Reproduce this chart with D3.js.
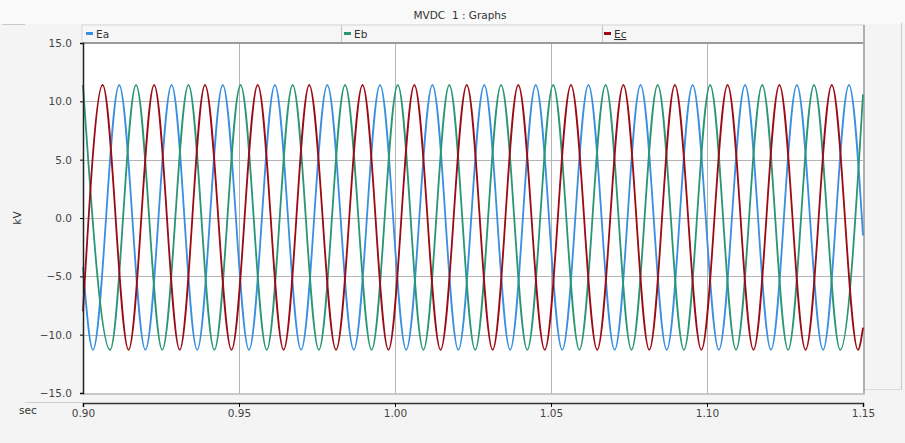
<!DOCTYPE html>
<html>
<head>
<meta charset="utf-8">
<script src="https://cdn.jsdelivr.net/npm/d3@7"></script>
<style>
  html, body { margin: 0; padding: 0; background: #f4f4f4; }
  svg { display: block; font-family: "DejaVu Sans", Verdana, sans-serif; }
</style>
</head>
<body>
<div id="chart"></div>
<script>
// Axis ticks
const xTicks = [0.90, 0.95, 1.00, 1.05, 1.10, 1.15];
const yTicks = [-15, -10, -5, 0, 5, 10, 15];

// Series names and colours
const seriesNames = ["Ea", "Eb", "Ec"];
const seriesColors = ["#3a8fe0", "#2a9675", "#9c0a14"];

// Ea (blue): start, alternating troughs / peaks, end  (sec, kV)
const eaTimes = [0.9000, 0.9032, 0.9116, 0.9200, 0.9284, 0.9366, 0.9448, 0.9532, 0.9615, 0.9699,
  0.9783, 0.9868, 0.9952, 1.0036, 1.0120, 1.0203, 1.0286, 1.0369, 1.0451, 1.0536,
  1.0620, 1.0704, 1.0787, 1.0871, 1.0954, 1.1038, 1.1122, 1.1205, 1.1288, 1.1372,
  1.1455, 1.1500];
const eaValues = [-4.2, -11.3, 11.4, -11.3, 11.4, -11.3, 11.4, -11.3, 11.4, -11.3,
  11.4, -11.3, 11.4, -11.3, 11.4, -11.3, 11.4, -11.3, 11.4, -11.3,
  11.4, -11.3, 11.4, -11.3, 11.4, -11.3, 11.4, -11.3, 11.4, -11.3,
  11.4, -1.5];

// Eb (green)
const ebTimes = [0.9000, 0.9087, 0.9170, 0.9254, 0.9338, 0.9421, 0.9505, 0.9589, 0.9672, 0.9756,
  0.9840, 0.9925, 1.0009, 1.0091, 1.0174, 1.0257, 1.0340, 1.0424, 1.0507, 1.0591,
  1.0675, 1.0758, 1.0842, 1.0926, 1.1010, 1.1093, 1.1177, 1.1260, 1.1343, 1.1427,
  1.1500];
const ebValues = [11.4, -11.3, 11.4, -11.3, 11.4, -11.3, 11.4, -11.3, 11.4, -11.3,
  11.4, -11.3, 11.4, -11.3, 11.4, -11.3, 11.4, -11.3, 11.4, -11.3,
  11.4, -11.3, 11.4, -11.3, 11.4, -11.3, 11.4, -11.3, 11.4, -11.3,
  10.6];

// Ec (red)
const ecTimes = [0.9000, 0.9063, 0.9146, 0.9228, 0.9310, 0.9391, 0.9476, 0.9560, 0.9643, 0.9725,
  0.9811, 0.9896, 0.9979, 1.0062, 1.0146, 1.0230, 1.0313, 1.0395, 1.0480, 1.0564,
  1.0648, 1.0732, 1.0815, 1.0897, 1.0982, 1.1066, 1.1149, 1.1232, 1.1316, 1.1400,
  1.1484, 1.1500];
const ecValues = [-8.0, 11.4, -11.3, 11.4, -11.3, 11.4, -11.3, 11.4, -11.3, 11.4,
  -11.3, 11.4, -11.3, 11.4, -11.3, 11.4, -11.3, 11.4, -11.3, 11.4,
  -11.3, 11.4, -11.3, 11.4, -11.3, 11.4, -11.3, 11.4, -11.3, 11.4,
  -11.3, -9.4];

const width = 905, height = 443;
const plot = {left: 83, right: 863, top: 43, bottom: 393};

const svg = d3.select("#chart").append("svg")
  .attr("width", width)
  .attr("height", height);

const x = d3.scaleLinear().domain([0.90, 1.15]).range([plot.left, plot.right]);
const y = d3.scaleLinear().domain([-15, 15]).range([plot.bottom, plot.top]);

// Frame / header
svg.append("rect").attr("x", 0).attr("y", 0).attr("width", width).attr("height", 24).attr("fill", "#f9f9f9");
svg.append("line").attr("x1", 2).attr("x2", 25).attr("y1", 24.5).attr("y2", 24.5).attr("stroke", "#c8c8c8");
svg.append("text")
  .attr("x", 460).attr("y", 19)
  .attr("text-anchor", "middle")
  .attr("font-size", 10.5)
  .attr("fill", "#333")
  .style("white-space", "pre")
  .text("MVDC  1 : Graphs");

// Legend row
const legendTop = 25;
svg.append("rect")
  .attr("x", plot.left - 1).attr("y", legendTop)
  .attr("width", plot.right - plot.left + 2).attr("height", plot.top - legendTop)
  .attr("fill", "#f6f6f6").attr("stroke", "#d6d6d6");
const legendX = [86, 344, 604];
const legendSep = [341, 602];
svg.selectAll(".sep").data(legendSep).join("line")
  .attr("x1", d => d + 0.5).attr("x2", d => d + 0.5)
  .attr("y1", legendTop).attr("y2", plot.top)
  .attr("stroke", "#c4c4c4");
const legend = svg.selectAll(".legend").data(seriesNames).join("g")
  .attr("transform", (d, i) => `translate(${legendX[i]},0)`);
legend.append("rect").attr("x", 0).attr("y", 32).attr("width", 7).attr("height", 3)
  .attr("fill", (d, i) => seriesColors[i]);
legend.append("text").attr("x", 10).attr("y", 38)
  .attr("font-size", 10.5).attr("fill", "#333")
  .attr("text-decoration", (d, i) => i === 2 ? "underline" : null)
  .text(d => d);

// Right side panel lines
svg.append("line").attr("x1", 901.5).attr("x2", 901.5).attr("y1", 23).attr("y2", 390).attr("stroke", "#c8c8c8");
svg.append("line").attr("x1", 865).attr("x2", 902).attr("y1", 389.5).attr("y2", 389.5).attr("stroke", "#dcdcdc");

// Plot area
svg.append("rect")
  .attr("x", plot.left).attr("y", plot.top)
  .attr("width", plot.right - plot.left).attr("height", plot.bottom - plot.top)
  .attr("fill", "#fff");

// Grid
svg.append("g").selectAll("line").data(yTicks.slice(1, -1)).join("line")
  .attr("x1", plot.left).attr("x2", plot.right)
  .attr("y1", d => Math.round(y(d)) + 0.5).attr("y2", d => Math.round(y(d)) + 0.5)
  .attr("stroke", "#b4b4b4");
svg.append("g").selectAll("line").data(xTicks.slice(1, -1)).join("line")
  .attr("x1", d => Math.round(x(d)) + 0.5).attr("x2", d => Math.round(x(d)) + 0.5)
  .attr("y1", plot.top).attr("y2", plot.bottom)
  .attr("stroke", "#b4b4b4");

// Plot borders
svg.append("line").attr("x1", plot.left).attr("x2", plot.right + 2)
  .attr("y1", plot.top).attr("y2", plot.top).attr("stroke", "#9a9a9a").attr("stroke-width", 2);
svg.append("line").attr("x1", plot.right + 1).attr("x2", plot.right + 1)
  .attr("y1", legendTop).attr("y2", plot.bottom + 1).attr("stroke", "#b0b0b0").attr("stroke-width", 2);
svg.append("line").attr("x1", plot.left).attr("x2", plot.right + 2)
  .attr("y1", plot.bottom + 1).attr("y2", plot.bottom + 1).attr("stroke", "#c8c8c8").attr("stroke-width", 2);

// Series
const series = [
  {times: eaTimes, values: eaValues},
  {times: ebTimes, values: ebValues},
  {times: ecTimes, values: ecValues}
];
const line = d3.line()
  .x(d => x(d[0]))
  .y(d => y(d[1]))
  .curve(d3.curveMonotoneX);
svg.append("g")
  .selectAll("path")
  .data(series)
  .join("path")
  .attr("fill", "none")
  .attr("stroke", (d, i) => seriesColors[i])
  .attr("stroke-width", 1.8)
  .attr("stroke-linejoin", "round")
  .attr("d", d => line(d.times.map((t, i) => [t, d.values[i]])));

// Y axis
const yAxis = svg.append("g")
  .attr("transform", `translate(${plot.left},0)`)
  .call(d3.axisLeft(y).tickValues(yTicks).tickFormat(d3.format(".1f")).tickSize(3).tickPadding(8));
yAxis.select(".domain").attr("stroke", "#222").attr("stroke-width", 1.5);
yAxis.selectAll("text").attr("font-size", 10.5).attr("fill", "#444")
  .attr("font-family", "DejaVu Sans, Verdana, sans-serif");

// X axis
svg.append("line").attr("x1", 25).attr("x2", plot.left).attr("y1", 402.5).attr("y2", 402.5).attr("stroke", "#cfcfcf");
const xAxis = svg.append("g")
  .attr("transform", `translate(0,403)`)
  .call(d3.axisBottom(x).tickValues(xTicks).tickFormat(d3.format(".2f")).tickSize(4).tickPadding(3));
xAxis.select(".domain").attr("stroke", "#333").attr("stroke-width", 1.5);
xAxis.selectAll("text").attr("font-size", 10.5).attr("fill", "#444")
  .attr("font-family", "DejaVu Sans, Verdana, sans-serif");

// Axis titles
svg.append("text")
  .attr("transform", `translate(21,${y(0)}) rotate(-90)`)
  .attr("text-anchor", "middle")
  .attr("font-size", 10.5).attr("fill", "#333")
  .text("kV");
svg.append("text")
  .attr("x", 19).attr("y", 414)
  .attr("font-size", 10.5).attr("fill", "#333")
  .text("sec");
</script>
</body>
</html>
